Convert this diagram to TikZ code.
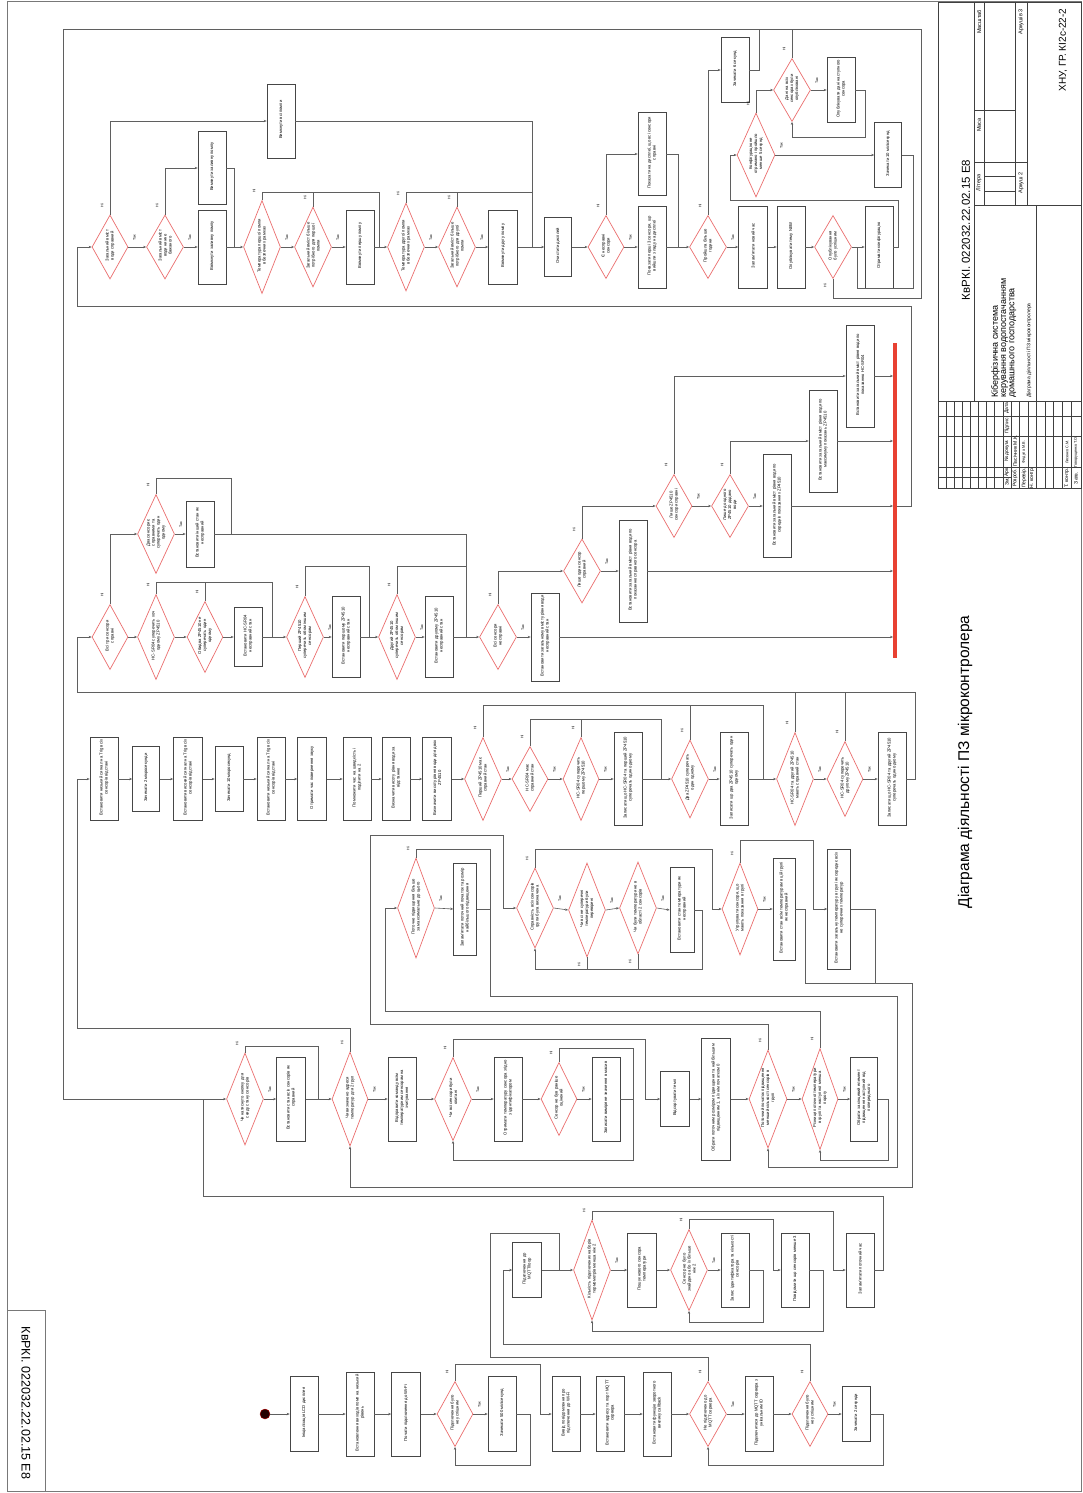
\documentclass[tikz,border=0pt]{standalone}
\usepackage{fontspec}
\setmainfont{Liberation Sans}
\usetikzlibrary{shapes.geometric,arrows.meta}
\definecolor{boxc}{RGB}{70,70,70}
\definecolor{linec}{RGB}{95,95,95}
\definecolor{diac}{RGB}{235,110,110}
\definecolor{barc}{RGB}{232,65,50}
\definecolor{framec}{RGB}{120,120,120}
\newcommand{\rtxt}[2]{\smash{\makebox[0pt]{\rotatebox[origin=c]{90}{\parbox{#1}{\centering #2}}}}}
\newcommand{\actbox}[6]{\node[abox,minimum width=#4pt,minimum height=#5pt] (#1) at (#2,#3) {\rtxt{\dimexpr#5pt-7pt\relax}{#6}};}
\newcommand{\decis}[6]{\node[dia,minimum width=#4pt,minimum height=#5pt] (#1) at (#2,#3) {\rtxt{\dimexpr#5pt*60/100\relax}{#6}};}
\newcommand{\lyes}[1]{\node[lbl] at ([shift={(6,-9)}]#1.east) {Так};}
\newcommand{\lno}[1]{\node[lbl] at ([shift={(-8,-9)}]#1.north) {Ні};}
\newcommand{\lnos}[1]{\node[lbl] at ([shift={(-8,7)}]#1.south) {Ні};}
\begin{document}
\begin{tikzpicture}[x=1pt,y=-1pt,
 abox/.style={draw=boxc,line width=0.6pt,rectangle,inner sep=0pt,font=\fontsize{4.2}{5}\selectfont},
 dia/.style={draw=diac,line width=0.7pt,diamond,inner sep=0pt,font=\fontsize{4.2}{5}\selectfont},
 ln/.style={draw=linec,line width=0.6pt},
 arr/.style={ln,-{Stealth[length=3pt,width=2.4pt]}},
 lbl/.style={rotate=90,font=\fontsize{3.6}{4}\selectfont,inner sep=0pt},
 tb/.style={draw=black!75,line width=0.6pt},
 tbt/.style={rotate=90,inner sep=0pt},
 frm/.style={draw=framec,line width=0.7pt}]
\useasboundingbox (0,0) rectangle (1083,1493);
\fill[white] (0,0) rectangle (1083,1493);
% frame
\draw[frm] (7,1.5) -- (7,1491) -- (1081,1491) -- (1081,1.5) -- cycle;
\draw[frm] (7,1310) rectangle (45,1491);
\node[rotate=-90,inner sep=0pt,font=\fontsize{12.5}{14}\selectfont] (stamp) at (26,1403) {КвРКІ. 022032.22.02.15 Е8};
\node[rotate=90,inner sep=0pt,font=\fontsize{15.5}{18}\selectfont] (ttl) at (965,762) {Діаграма діяльності ПЗ мікроконтролера};

% ================= Band 1
\decis{D1}{110}{247}{36}{64}{Загальний вміст води справний}
\actbox{Ball}{281}{121}{28}{74}{Вимкнути всі помпи}
\decis{D2}{165}{247}{37}{64}{Загальний вміст води нижче бажаного}
\actbox{Boff}{212}{168}{28}{73}{Вимкнути заливну помпу}
\actbox{Bon}{212}{247}{28}{74}{Ввімкнути заливну помпу}
\decis{D3}{262}{247}{37}{93}{Температура першої помпи в безпечних рамках}
\decis{D4}{313}{247}{37}{80}{Загальний вміст більше потрібного для першої помпи}
\actbox{Bp1}{360}{247}{28}{74}{Ввімкнути першу помпу}
\decis{D5}{406}{247}{37}{88}{Температура другої помпи в безпечних рамках}
\decis{D6}{457}{247}{37}{80}{Загальний вміст більше потрібного для другої помпи}
\actbox{Bp2}{503}{247}{29}{74}{Ввімкнути другу помпу}
\actbox{Bclr}{558}{247}{27}{59}{Очистити дисплей}
\decis{D7}{606}{247}{36}{63}{Є несправні сенсори}
\actbox{Bok}{652}{154}{28}{83}{Показати на дисплеї, що всі сенсори справні}
\actbox{Bbad}{652}{247}{28}{82}{Показати перші 3 сенсори, що вийшли з ладу на дисплеї}
\decis{D8}{708}{247}{37}{63}{Пройшла більше години}
\actbox{Bwsix}{735}{70}{28}{65}{Зачекати 6 секунд}
\actbox{Btime}{753}{247}{29}{82}{Запам'ятати новий час}
\actbox{Bpub}{791}{247}{28}{82}{Опублікувати тему NEW}
\decis{D9}{833}{247}{37}{63}{Опублікування було успішним}
\actbox{Bcfg}{879}{247}{28}{82}{Отримати конфігурацію}
\decis{D10}{756}{155}{38}{84}{Конфігурацію не отримано і пройшло менше 5 секунд}
\decis{D11}{792}{90}{37}{63}{Дані на всіх сенсорах були опубліковані}
\actbox{Bnext}{841}{90}{28}{65}{Опублікувати дані наступного сенсора}
\actbox{Bwten}{888}{155}{27}{65}{Зачекати 10 мілісекунд}

% ================= Band 2
\decis{E1}{110}{637}{36}{65}{Всі три сенсори справні}
\decis{E2}{156}{534}{37}{79}{Два сенсори є справними та суперечать один одному}
\actbox{Bother}{200}{534}{28}{66}{Встановити інший стан як несправний}
\decis{E3}{156}{637}{37}{85}{HC-SR04 суперечить хоч одному ZP4510}
\decis{E4}{205}{637}{36}{71}{Обидва ZP4510 не суперечать один одному}
\actbox{Bhc}{248}{637}{28}{59}{Встановити HC-SR04 несправний стан}
\decis{E5}{305}{637}{37}{81}{Перший ZP4510 суперечить обом іншим сенсорам}
\actbox{Bzone}{346}{637}{28}{81}{Встановити першому ZP4510 несправний стан}
\decis{E6}{397}{637}{37}{85}{Другий ZP4510 суперечить обом іншим сенсорам}
\actbox{Bztwo}{439}{637}{28}{81}{Встановити другому ZP4510 несправний стан}
\decis{E7}{498}{637}{37}{65}{Всі сенсори несправні}
\actbox{Bnone}{545}{637}{28}{88}{Встановити загальному вмісту рівня води несправний стан}
\decis{E8}{582}{571}{37}{64}{Лише один сенсор справний}
\actbox{Bone}{633}{571}{28}{102}{Встановити загальний вміст рівня води по показанню справного сенсора}
\decis{E9}{674}{506}{36}{63}{Лише ZP4510 сенсори справні}
\decis{E10}{730}{506}{37}{63}{Лише до одного ZP4510 додано води}
\actbox{Bavg}{777}{506}{28}{103}{Встановити загальний вміст рівня води по середніх показаннях ZP4510}
\actbox{Bmax}{823}{441}{28}{102}{Встановити загальний вміст рівня води по максимуму показань ZP4510}
\actbox{Bhcs}{860}{376}{28}{102}{Встановити загальний вміст рівня води по показанню HC-SR04}
\node[fill=barc,minimum width=3.5pt,minimum height=315pt,inner sep=0pt] (join) at (895,500.5) {};

% ================= Band 3
\actbox{aa}{104}{779}{28}{83}{Встановити низький сигнал на Trig всіх сенсорів відстані}
\actbox{ab}{146}{779}{27}{65}{Зачекати 2 мікросекунди}
\actbox{ac}{188}{779}{29}{83}{Встановити високий сигнал на Trig всіх сенсорів відстані}
\actbox{ad}{229}{779}{28}{65}{Зачекати 10 мікросекунд}
\actbox{ae}{271}{779}{28}{83}{Встановити низький сигнал на Trig всіх сенсорів відстані}
\actbox{af}{312}{779}{29}{83}{Отримати час повернення звуку}
\actbox{ag}{357}{779}{28}{83}{Помножити час на швидкість і поділити на 2}
\actbox{ah}{396}{779}{28}{83}{Визначити висоту рівня води за відстанню}
\actbox{ai}{437}{779}{29}{83}{Визначити висоту рівня води для двох ZP4510}
\decis{ba}{483}{779}{37}{83}{Перший ZP4510 має справний стан}
\decis{bb}{530}{779}{36}{65}{HC-SR04 має справний стан}
\decis{bc}{581}{779}{36}{83}{HC-SR04 суперечить першому ZP4510}
\actbox{bd}{628}{779}{28}{93}{Записати що HC-SR04 та перший ZP4510 суперечать один одному}
\decis{be}{690}{779}{37}{78}{Два ZP4510 суперечать один одному}
\actbox{bf}{734}{779}{28}{93}{Записати що два ZP4510 суперечать один одному}
\decis{bg}{795}{779}{37}{93}{HC-SR04 та другий ZP4510 мають справний стан}
\decis{bh}{845}{779}{36}{75}{HC-SR04 суперечить другому ZP4510}
\actbox{bi}{892}{779}{28}{93}{Записати що HC-SR04 та другий ZP4510 суперечать один одному}

% ================= Band 4
\decis{ca}{416}{908}{37}{100}{Поточне підвищення більше за максимальне до цього}
\actbox{cab}{465}{909}{23}{92}{Запам'ятати поточний початок та розмір найбільшого підвищення}
\decis{cb}{535}{908}{37}{80}{Справність всіх сенсорів групи була визначена}
\decis{cc}{587}{910}{37}{94}{Чи всі не суперечні температури були перевірені}
\decis{cd}{638}{908}{37}{92}{Чи були температури не в області 2 сенсорів}
\actbox{cdb}{682}{910}{24}{85}{Встановити стан температури як несправний}
\decis{ce}{740}{909}{36}{92}{Угрупувати сенсори, що мають показання в групі}
\actbox{cf}{784}{909}{22}{102}{Встановити стан всім температурам в цій групі як несправний}
\actbox{cg}{839}{909}{23}{120}{Встановити загальну температуру в групі як середнє всіх не суперечних температур}
\coordinate (mc) at (490,909);

% ================= Band 5
\decis{da}{245}{1099}{37}{92}{Чи натиснуто кнопку для скиду стану сенсорів}
\actbox{dab}{291}{1099}{29}{84}{Встановити стан всіх сенсорів як справний}
\decis{db}{350}{1099}{36}{94}{Чи визначено адреси температур для 2 груп}
\actbox{dbb}{402}{1099}{28}{84}{Відправити команду всім температурним сенсорам на зчитування}
\decis{dc}{453}{1099}{37}{83}{Чи всі сенсори були опитані}
\actbox{dcb}{508}{1099}{28}{84}{Отримати температуру сенсора згідно з ідентифікатором}
\decis{dd}{559}{1099}{36}{73}{Сенсор не був раніше оцінений}
\actbox{ddb}{606}{1099}{28}{84}{Записати виміряне значення в масив}
\actbox{ea}{675}{1099}{29}{55}{Відсортувати темп}
\actbox{eb}{716}{1099}{29}{122}{Обрати поточним розміром підвищення та найбільшим підвищенням 1, а їхнім початком 0}
\decis{ec}{768}{1099}{38}{98}{Поточний початок підвищення менший кількості сенсорів в групі}
\decis{ed}{820}{1099}{36}{101}{Різниця поточної температури в групі та наступної менша порогу}
\actbox{ee}{864}{1099}{27}{84}{Обрати за кінцевий елемент підвищення наступний від попереднього}

% ================= Band 6
\actbox{fa}{527}{1270}{29}{55}{Підключення до MQTT/loop}
\decis{fb}{592}{1270}{37}{100}{Кількість підключених наборів термометрів менша ніж 2}
\actbox{fc}{642}{1270}{29}{74}{Пошук нового сенсора температури}
\decis{fd}{689}{1270}{37}{81}{Сенсор не було знайдено або їх більше ніж 2}
\actbox{fe}{735}{1270}{28}{74}{Запис ідентифікатора та кількості сенсорів}
\actbox{ff}{795}{1270}{28}{74}{Повідомити що сенсорів менше 3}
\actbox{fg}{860}{1270}{28}{74}{Запам'ятати поточний час}

% ================= Band 7
\node[circle,fill=black!85!red,draw=red!70!black,minimum size=10pt,inner sep=0pt] (start) at (265,1414) {};
\actbox{ha}{304}{1414}{28}{75}{Ініціалізація LCD дисплея}
\actbox{hb}{360}{1414}{28}{84}{Встановлення виходів помп на низький рівень}
\actbox{hc}{406}{1414}{29}{84}{Почати підключення до Wi-Fi}
\decis{hd}{455}{1414}{36}{65}{Підключення було не успішним}
\actbox{he}{502}{1414}{28}{75}{Зачекати 500 мілісекунд}
\actbox{hf}{566}{1414}{28}{75}{Вивід повідомлення про підключення до Wi-Fi}
\actbox{hg}{610}{1414}{28}{75}{Встановити адресу та порт MQTT сервера}
\actbox{hh}{657}{1414}{28}{84}{Встановити функцію зворотного виклику callback}
\decis{hi}{708}{1414}{37}{65}{Не підключено до MQTT сервера}
\actbox{hj}{759}{1414}{28}{75}{Підключитися до MQTT сервера з унікальним ID}
\decis{hk}{810}{1414}{36}{65}{Підключення було не успішним}
\actbox{hl}{856}{1414}{28}{55}{Зачекати 2 секунди}

% ================= connectors band 1
\draw[arr] (join.east |- Bavg.east) -- (911,506) -- (911,306) -- (77,306) -- (77,247) -- (D1.west);
\draw[arr] (D1.east) -- (D2.west); \lyes{D1}
\draw[arr] (D1.north) |- (Ball.west); \lno{D1}
\draw[ln] (Ball.east) -| (532,247);
\draw[arr] (D2.east) -- (Bon.west); \lyes{D2}
\draw[arr] (D2.north) |- (Boff.west); \lno{D2}
\draw[ln] (Boff.east) -| (234,247);
\draw[arr] (Bon.east) -- (D3.west);
\draw[arr] (D3.east) -- (D4.west); \lyes{D3}
\draw[ln] (D3.north) |- (379,192) -- (379,247); \lno{D3}
\draw[ln] (D4.north) -- (D4.north |- 0,192); \lno{D4}
\draw[arr] (D4.east) -- (Bp1.west); \lyes{D4}
\draw[arr] (Bp1.east) -- (D5.west);
\draw[arr] (D5.east) -- (D6.west); \lyes{D5}
\draw[ln] (D5.north) |- (532,192); \lno{D5}
\draw[ln] (D6.north) -- (D6.north |- 0,192); \lno{D6}
\draw[arr] (D6.east) -- (Bp2.west); \lyes{D6}
\draw[arr] (Bp2.east) -- (Bclr.west);
\draw[arr] (Bclr.east) -- (D7.west);
\draw[arr] (D7.east) -- (Bbad.west); \lyes{D7}
\draw[arr] (D7.north) |- (Bok.west); \lno{D7}
\draw[ln] (Bok.east) -| (678,247);
\draw[arr] (Bbad.east) -- (D8.west);
\draw[arr] (D8.north) |- (Bwsix.west); \lno{D8}
\draw[ln] (Bwsix.east) -| (759,29);
\draw[arr] (D8.east) -- (Btime.west); \lyes{D8}
\draw[arr] (Btime.east) -- (Bpub.west);
\draw[arr] (Bpub.east) -- (D9.west);
\draw[arr] (D9.east) -- (Bcfg.west);
\draw[arr] (D9.south) |- (921,298) -- (921,29) -- (63,29) -- (63,1099) -- (da.west); \lnos{D9}
\draw[arr] (Bcfg.east) -- (898,247) -- (898,200) -- (730,200) -- (730,155) -- (D10.west);
\draw[arr] (D10.north) |- (D11.west); \lno{D10}
\draw[ln] (D11.north) -- (D11.north |- 0,29); \lno{D11}
\draw[arr] (D11.east) -- (Bnext.west); \lyes{D11}
\draw[arr] (Bnext.east) -- (865,90) -- (865,137) -- (792,137) -- (D11.south);
\draw[arr] (D10.east) -- (Bwten.west); \lyes{D10}
\draw[ln] (Bwten.east) -- (913,155) -- (913,288) -- (857,288) -- (857,247);

% ================= connectors band 2
\draw[arr] (E1.east) -- (E3.west);
\draw[arr] (E1.north) |- (E2.west); \lno{E1}
\draw[arr] (E2.east) -- (Bother.west); \lyes{E2}
\draw[ln] (E2.north) |- (231,478) -- (231,534); \lno{E2}
\draw[ln] (Bother.east) -- (466,534) -- (466,637);
\draw[arr] (E3.east) -- (E4.west);
\draw[ln] (E3.north) |- (272,582) -- (272,637); \lno{E3}
\draw[ln] (E4.north) -- (E4.north |- 0,582); \lno{E4}
\draw[arr] (E4.east) -- (Bhc.west);
\draw[arr] (Bhc.east) -- (E5.west);
\draw[ln] (E5.north) |- (369,566) -- (369,637); \lno{E5}
\draw[arr] (E5.east) -- (Bzone.west); \lyes{E5}
\draw[arr] (Bzone.east) -- (E6.west);
\draw[ln] (E6.north) |- (466,566); \lno{E6}
\draw[arr] (E6.east) -- (Bztwo.west); \lyes{E6}
\draw[arr] (Bztwo.east) -- (E7.west);
\draw[arr] (E7.east) -- (Bnone.west); \lyes{E7}
\draw[arr] (Bnone.east) -- (Bnone.east -| join.west);
\draw[arr] (E7.north) |- (E8.west); \lno{E7}
\draw[arr] (E8.east) -- (Bone.west); \lyes{E8}
\draw[arr] (Bone.east) -- (Bone.east -| join.west);
\draw[arr] (E8.north) |- (E9.west); \lno{E8}
\draw[arr] (E9.east) -- (E10.west); \lyes{E9}
\draw[arr] (E9.north) |- (Bhcs.west); \lno{E9}
\draw[arr] (Bhcs.east) -- (Bhcs.east -| join.west);
\draw[arr] (E10.east) -- (Bavg.west); \lyes{E10}
\draw[arr] (Bavg.east) -- (Bavg.east -| join.west);
\draw[arr] (E10.north) |- (Bmax.west); \lno{E10}
\draw[arr] (Bmax.east) -- (Bmax.east -| join.west);

% ================= connectors band 3
\draw[arr] (db.north) |- (77,1028) -- (77,779) -- (aa.west); \lno{db}
\draw[arr] (aa.east) -- (ab.west);
\draw[arr] (ab.east) -- (ac.west);
\draw[arr] (ac.east) -- (ad.west);
\draw[arr] (ad.east) -- (ae.west);
\draw[arr] (ae.east) -- (af.west);
\draw[arr] (af.east) -- (ag.west);
\draw[arr] (ag.east) -- (ah.west);
\draw[arr] (ah.east) -- (ai.west);
\draw[arr] (ai.east) -- (ba.west);
\draw[arr] (ba.east) -- (bb.west); \lyes{ba}
\draw[ln] (ba.north) |- (763,705) -- (763,779); \lno{ba}
\draw[arr] (bb.east) -- (bc.west); \lyes{bb}
\draw[ln] (bb.north) |- (661,719) -- (661,779); \lno{bb}
\draw[arr] (bc.east) -- (bd.west); \lyes{bc}
\draw[ln] (bc.north) -- (bc.north |- 0,719); \lno{bc}
\draw[arr] (bd.east) -- (be.west);
\draw[arr] (be.east) -- (bf.west); \lyes{be}
\draw[ln] (be.north) -- (be.north |- 0,705); \lno{be}
\draw[arr] (bf.east) -- (bg.west);
\draw[arr] (bg.east) -- (bh.west); \lyes{bg}
\draw[ln] (bg.north) -- (bg.north |- 0,692); \lno{bg}
\draw[arr] (bh.east) -- (bi.west); \lyes{bh}
\draw[ln] (bh.north) -- (bh.north |- 0,692); \lno{bh}
\draw[arr] (bi.east) -- (915,779) -- (915,692) -- (77,692) -- (77,637) -- (E1.west);

% ================= connectors band 4
\draw[arr] (ed.north) |- (385,1011) -- (385,908) -- (ca.west); \lno{ed}
\draw[arr] (ca.east) -- (cab.west); \lyes{ca}
\draw[ln] (ca.north) |- (490,849) -- (mc); \lno{ca}
\draw[ln] (cab.east) -- (mc);
\draw[arr] (mc) -- (490,996) -- (897,996) -- (897,1167) -- (768,1167) -- (ec.south);
\draw[arr] (ec.north) |- (370,1024) -- (370,835) -- (503,835) -- (503,908) -- (cb.west); \lno{ec}
\draw[arr] (cb.east) -- (cc.west); \lyes{cb}
\draw[arr] (cc.east) -- (cd.west); \lyes{cc}
\draw[arr] (cd.east) -- (cdb.west); \lyes{cd}
\draw[arr] (cdb.east) -- (702,910) -- (702,969) -- (535,969) -- (cb.south);
\draw[ln] (cc.south) -- (cc.south |- 0,969); \lnos{cc}
\draw[ln] (cd.south) -- (cd.south |- 0,969); \lnos{cd}
\draw[arr] (cb.north) |- (712,849) -- (712,909) -- (ce.west); \lno{cb}
\draw[arr] (ce.east) -- (cf.west); \lyes{ce}
\draw[arr] (ce.north) |- (813,840) -- (813,909) -- (cg.west); \lno{ce}
\draw[arr] (cf.east) -- (805,909) -- (805,983) -- (912,983) -- (912,1187) -- (350,1187) -- (db.south);
\draw[ln] (cg.east) -- (875,909) -- (875,983);

% ================= connectors band 5
\draw[ln] (fg.east) -- (883,1270) -- (883,1196) -- (203,1196) -- (203,1099);
\draw[arr] (da.east) -- (dab.west); \lyes{da}
\draw[ln] (da.north) |- (318,1046) -- (318,1099); \lno{da}
\draw[arr] (dab.east) -- (db.west);
\draw[arr] (db.east) -- (dbb.west); \lyes{db}
\draw[arr] (dbb.east) -- (dc.west);
\draw[arr] (dc.east) -- (dcb.west); \lyes{dc}
\draw[arr] (dcb.east) -- (dd.west);
\draw[arr] (dd.east) -- (ddb.west); \lyes{dd}
\draw[ln] (dd.north) |- (633,1048) -- (633,1099); \lno{dd}
\draw[arr] (ddb.east) -- (633,1099) -- (633,1160) -- (453,1160) -- (dc.south);
\draw[arr] (dc.north) |- (645,1039) -- (645,1099) -- (ea.west); \lno{dc}
\draw[arr] (ea.east) -- (eb.west);
\draw[arr] (eb.east) -- (ec.west);
\draw[arr] (ec.east) -- (ed.west); \lyes{ec}
\draw[arr] (ed.east) -- (ee.west); \lyes{ed}
\draw[arr] (ee.east) -- (888,1099) -- (888,1160) -- (820,1160) -- (ed.south);

% ================= connectors band 6
\draw[arr] (fa.east) -- (fb.west);
\draw[arr] (fb.east) -- (fc.west); \lyes{fb}
\draw[arr] (fb.north) |- (833,1211) -- (833,1270) -- (fg.west); \lno{fb}
\draw[arr] (fc.east) -- (fd.west);
\draw[arr] (fd.east) -- (fe.west); \lyes{fd}
\draw[arr] (fe.east) -- (763,1270) -- (763,1322) -- (689,1322) -- (fd.south);
\draw[arr] (fd.north) |- (773,1219) -- (773,1270) -- (ff.west); \lno{fd}
\draw[arr] (ff.east) -- (823,1270) -- (823,1331) -- (592,1331) -- (fb.south);

% ================= connectors band 7
\draw[arr] (start.east) -- (ha.west);
\draw[arr] (ha.east) -- (hb.west);
\draw[arr] (hb.east) -- (hc.west);
\draw[arr] (hc.east) -- (hd.west);
\draw[arr] (hd.east) -- (he.west); \lyes{hd}
\draw[arr] (he.east) -- (530,1414) -- (530,1465) -- (455,1465) -- (hd.south);
\draw[arr] (hd.north) |- (540,1364) -- (540,1414) -- (hf.west); \lno{hd}
\draw[arr] (hf.east) -- (hg.west);
\draw[arr] (hg.east) -- (hh.west);
\draw[arr] (hh.east) -- (hi.west);
\draw[arr] (hi.east) -- (hj.west); \lyes{hi}
\draw[ln] (hi.north) |- (490,1357) -- (490,1233) -- (559,1233) -- (559,1270); \lno{hi}
\draw[arr] (hj.east) -- (hk.west);
\draw[arr] (hk.east) -- (hl.west); \lyes{hk}
\draw[arr] (hk.north) |- (503,1344) -- (503,1270) -- (fa.west); \lno{hk}
\draw[arr] (hl.east) -- (883,1414) -- (883,1465) -- (708,1465) -- (hi.south);

% ================= title block
\draw[tb] (938,2) rectangle (1081,488);
\draw[tb] (938,401) -- (1081,401);
\foreach \xx in {946,954,962,970,978,986,994,1003,1011,1019,1028,1036,1045,1053,1062,1071}
  \draw[tb,line width=0.4pt] (\xx,401) -- (\xx,488);
\draw[tb] (938,477) -- (1011,477);
\draw[tb] (938,467) -- (1081,467);
\draw[tb] (938,436) -- (1081,436);
\draw[tb] (938,416) -- (1081,416);
\draw[tb] (974,2) -- (974,401);
\draw[tb] (974,205) -- (1081,205);
\draw[tb] (984,2) -- (984,205);
\draw[tb] (1015,2) -- (1015,205);
\draw[tb] (1027,2) -- (1027,205);
\draw[tb] (974,162) -- (1027,162);
\draw[tb] (974,110) -- (1015,110);
\draw[tb] (984,191) -- (1015,191);
\draw[tb] (984,176) -- (1015,176);
\draw[tb] (1036,205) -- (1036,401);
\node[tbt,font=\fontsize{11.5}{13}\selectfont] at (966,230) {КвРКІ. 022032.22.02.15 Е8};
\node[tbt,anchor=north west,align=left,font=\fontsize{9}{8.3}\selectfont] at (991,398) {Кіберфізична система\\керування водопостачанням\\домашнього господарства};
\node[tbt,anchor=west,font=\fontsize{5}{6}\selectfont] at (1029,398) {Діаграма діяльності ПЗ мікроконтролера};
\node[tbt,font=\fontsize{5.5}{6}\selectfont] at (979,183) {Літера};
\node[tbt,font=\fontsize{5.5}{6}\selectfont] at (979,125) {Маса};
\node[tbt,font=\fontsize{5.5}{6}\selectfont] at (979,22) {Масштаб};
\node[tbt,font=\fontsize{5.5}{6}\selectfont] at (1021,183) {Аркуш 2};
\node[tbt,font=\fontsize{5.5}{6}\selectfont] at (1021,22) {Аркушів 3};
\node[tbt,font=\fontsize{10}{12}\selectfont] at (1063,50) {ХНУ, ГР. КІ2с-22-2};
\node[tbt,font=\fontsize{5}{6}\selectfont] at (1007,482) {Зм.};
\node[tbt,font=\fontsize{5}{6}\selectfont] at (1007,472) {Арк.};
\node[tbt,font=\fontsize{5}{6}\selectfont] at (1007,451) {№ докум.};
\node[tbt,font=\fontsize{5}{6}\selectfont] at (1007,426) {Підпис};
\node[tbt,font=\fontsize{5}{6}\selectfont] at (1007,408) {Дата};
\node[tbt,font=\fontsize{5}{6}\selectfont] at (1015,478) {Розроб.};
\node[tbt,font=\fontsize{5}{6}\selectfont] at (1015,451) {Пасічник М.К.};
\node[tbt,font=\fontsize{5}{6}\selectfont] at (1024,478) {Перевір.};
\node[tbt,font=\fontsize{3.8}{5}\selectfont] at (1024,452) {Федула М.В.};
\node[tbt,font=\fontsize{5}{6}\selectfont] at (1032,478) {Н. контр.};
\node[tbt,font=\fontsize{5}{6}\selectfont] at (1067,478) {Т. контр.};
\node[tbt,font=\fontsize{3.8}{5}\selectfont] at (1067,452) {Лисенко С.М.};
\node[tbt,font=\fontsize{5}{6}\selectfont] at (1076,478) {Затв.};
\node[tbt,font=\fontsize{3.8}{5}\selectfont] at (1076,452) {Говорущенко Т.О.};
\end{tikzpicture}
\end{document}
